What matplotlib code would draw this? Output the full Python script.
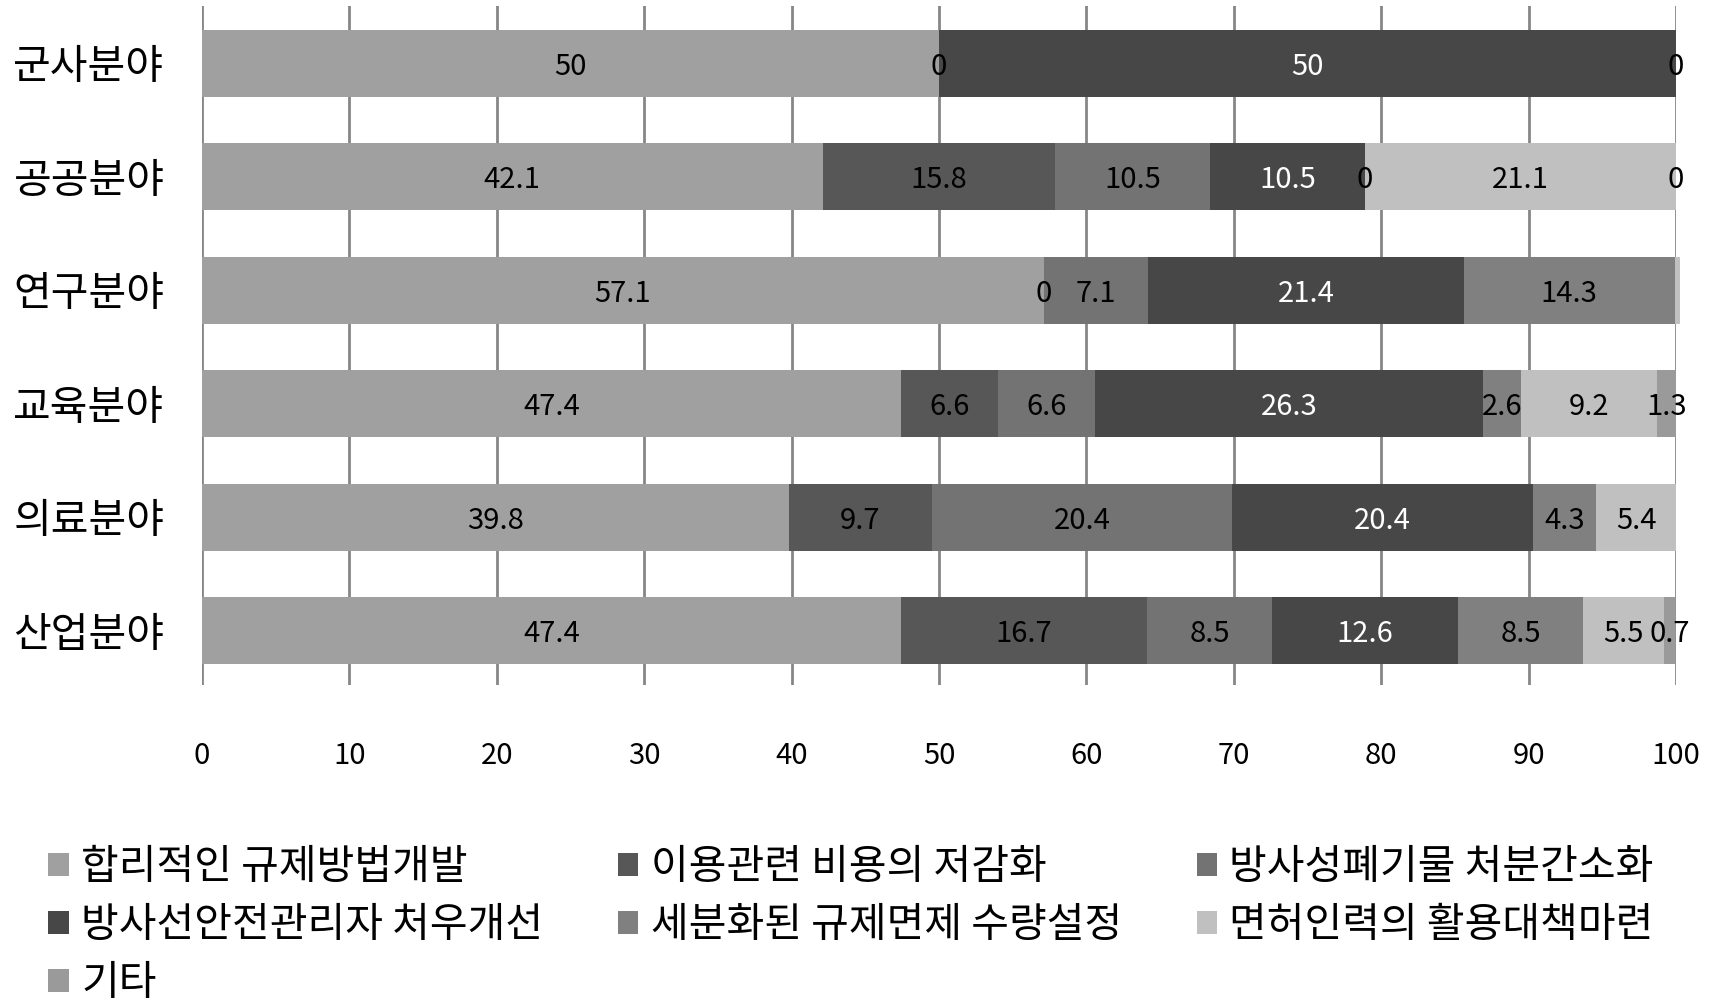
import matplotlib
matplotlib.use("Agg")
import matplotlib.pyplot as plt
import numpy as np

plt.rcParams['font.family'] = ['Noto Sans CJK KR', 'DejaVu Sans']

categories = ["군사분야", "공공분야", "연구분야", "교육분야", "의료분야", "산업분야"]
series_names = ["합리적인 규제방법개발", "이용관련 비용의 저감화", "방사성폐기물 처분간소화",
                "방사선안전관리자 처우개선", "세분화된 규제면제 수량설정", "면허인력의 활용대책마련", "기타"]
nan = np.nan
# one list per series, in category order (nan = empty cell, no label)
s_rule = [50, 42.1, 57.1, 47.4, 39.8, 47.4]
s_cost = [0, 15.8, 0, 6.6, 9.7, 16.7]
s_waste = [nan, 10.5, 7.1, 6.6, 20.4, 8.5]
s_manager = [50, 10.5, 21.4, 26.3, 20.4, 12.6]
s_exempt = [0, 0, 14.3, 2.6, 4.3, 8.5]
s_license = [nan, 21.1, 0.4, 9.2, 5.4, 5.5]
s_etc = [nan, 0, nan, 1.3, nan, 0.7]
series = [s_rule, s_cost, s_waste, s_manager, s_exempt, s_license, s_etc]
hidden_labels = {(2, 5)}  # (category index, series index)

colors = ["#a0a0a0", "#575757", "#737373", "#474747", "#808080", "#c0c0c0", "#9a9a9a"]
text_colors = ["black", "black", "black", "white", "black", "black", "black"]

fig = plt.figure(figsize=(17.32, 10.05), dpi=100)
ax = fig.add_axes([0.1166, 0.3184, 0.8511, 0.6761])

y = np.arange(len(categories))
left = np.zeros(len(categories))
handles = []
for i, vals in enumerate(series):
    v = np.array(vals, dtype=float)
    w = np.nan_to_num(v)
    b = ax.barh(y, w, left=left, height=0.59, color=colors[i], zorder=2,
                label=series_names[i], clip_on=False)
    handles.append(b)
    for j in range(len(categories)):
        if np.isnan(v[j]) or (j, i) in hidden_labels:
            continue
        ax.text(left[j] + w[j] / 2, y[j] + 0.03, f"{v[j]:g}", ha="center", va="center",
                fontsize=21, color=text_colors[i], zorder=3)
    left += w

ax.set_xlim(0, 100)
ax.set_ylim(5.48, -0.511)
ax.set_xticks(range(0, 101, 10))
ax.set_yticks(y)
ax.set_yticklabels(categories, fontsize=29.5)
ax.tick_params(axis="x", labelsize=21, length=0, pad=40)
ax.tick_params(axis="y", length=0, pad=27)
ax.grid(axis="x", color="#868686", linewidth=2, zorder=0)
for s in ax.spines.values():
    s.set_visible(False)

order = [0, 3, 6, 1, 4, 2, 5]
fig.legend([handles[k] for k in order], [series_names[k] for k in order],
           loc="upper left", bbox_to_anchor=(0.028, 0.157), ncol=3, frameon=False,
           fontsize=29.5, handlelength=0.5, handleheight=0.5, handletextpad=0.3,
           columnspacing=1.82, labelspacing=0.41, borderpad=0, borderaxespad=0)

fig.savefig("out.png", dpi=100)
